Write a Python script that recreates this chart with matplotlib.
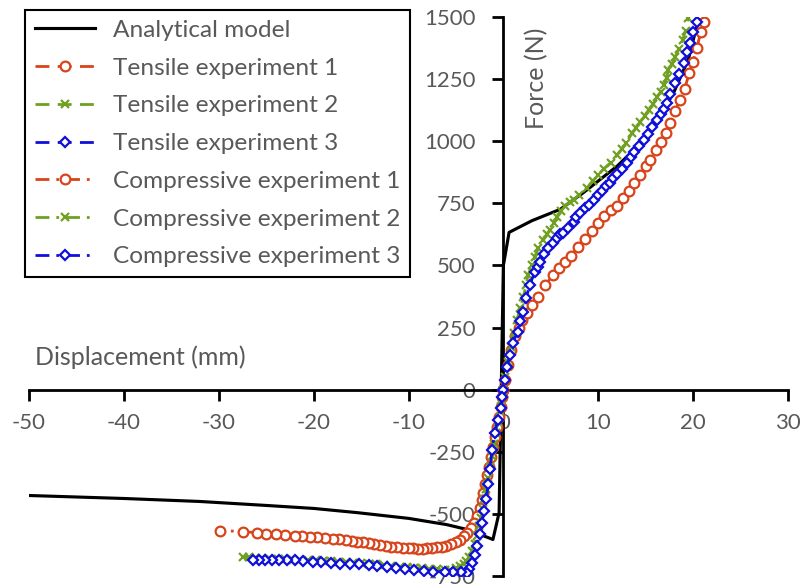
import matplotlib
matplotlib.use("Agg")
import matplotlib.pyplot as plt

plt.rcParams["font.family"] = ["Lato", "DejaVu Sans"]
plt.rcParams["axes.unicode_minus"] = False

# analytical model
model_x = [-50, -40, -32, -25, -20, -15.4, -10, -6, -3.8, -1.1, -0.45, 0.0, 0.6, 3, 6, 8.4, 10, 12, 13, 14.5, 16.5, 18, 19.5, 20.2, 20.6]
model_y = [-426, -438, -450, -466, -478, -495, -518, -543, -563, -603, -495, 500, 633, 680, 726, 792, 840, 900, 937, 995, 1098, 1200, 1330, 1436, 1490]

# tensile experiments
t1_x = [0.0, 0.2, 0.5, 0.8, 1.2, 1.6, 2.0, 2.5, 3.0, 3.6, 4.4, 5.2, 5.9, 6.5, 7.1, 7.9, 8.6, 9.3, 10.0, 10.6,
        11.3, 12.0, 12.6, 13.2, 13.8, 14.4, 15.0, 15.5, 16.1, 16.6, 17.1, 17.6, 18.1, 18.6, 19.1, 19.6, 20.0, 20.4, 20.8, 21.1]
t1_y = [0, 40, 100, 160, 215, 250, 280, 310, 340, 375, 420, 460, 490, 515, 540, 575, 605, 640, 670, 700,
        725, 740, 770, 800, 830, 865, 900, 925, 965, 995, 1033, 1075, 1120, 1165, 1210, 1275, 1320, 1375, 1440, 1480]

t2_x = [0.0, 0.2, 0.5, 0.8, 1.1, 1.4, 1.8, 2.1, 2.4, 2.6, 3.0, 3.3, 3.7, 4.2, 4.6, 4.9, 5.3, 5.7, 6.1, 6.5,
        7.0, 7.4, 8.0, 8.8, 9.4, 10.0, 10.6, 11.3, 12.0, 12.5, 12.9, 13.6, 14.0, 14.4, 14.9, 15.3, 15.8, 16.2, 16.6, 16.9,
        17.2, 17.4, 17.8, 18.1, 18.5, 18.9, 19.2, 19.5]
t2_y = [0, 50, 110, 170, 230, 280, 330, 374, 420, 462, 500, 535, 570, 603, 625, 643, 670, 696, 720, 740,
        755, 764, 785, 812, 840, 865, 890, 913, 945, 970, 993, 1033, 1055, 1078, 1100, 1126, 1150, 1178, 1200, 1227,
        1255, 1287, 1310, 1339, 1370, 1408, 1445, 1496]

t3_x = [0.0, 0.2, 0.4, 0.7, 1.0, 1.5, 1.8, 2.1, 2.4, 2.8, 3.3, 3.6, 3.9, 4.3, 4.7, 5.2, 5.7, 6.0, 6.3, 6.8,
        7.4, 7.7, 8.1, 8.6, 9.0, 9.5, 10.0, 10.4, 10.8, 11.2, 11.6, 12.0, 12.5, 13.0, 13.4, 13.8, 14.3, 14.8, 15.2, 15.7,
        16.2, 16.6, 16.9, 17.2, 17.6, 18.1, 18.5, 19.0, 19.4, 19.7, 20.0, 20.4]
t3_y = [0, 40, 93, 141, 189, 233, 275, 314, 370, 422, 474, 495, 515, 545, 571, 590, 611, 625, 631, 650,
        676, 696, 710, 730, 745, 764, 785, 800, 818, 832, 850, 868, 890, 913, 935, 955, 980, 1005, 1030, 1058,
        1086, 1110, 1130, 1154, 1190, 1235, 1270, 1315, 1360, 1395, 1440, 1480]

# compressive experiments
c1_x = [0.0, -0.1, -0.3, -0.5, -0.7, -0.9, -1.1, -1.3, -1.5, -1.7, -1.9, -2.1, -2.3, -2.5, -2.8, -3.1, -3.4, -3.8, -4.2, -4.6,
        -5.0, -5.5, -6.0, -6.5, -7.0, -7.5, -8.0, -8.5, -9.0, -9.5, -10.0, -10.6, -11.2, -11.8, -12.4, -13.0, -13.6, -14.2, -14.8, -15.4,
        -16.0, -16.6, -17.3, -18.0, -18.8, -19.6, -20.4, -21.2, -22.0, -23.0, -24.0, -25.0, -26.0, -27.4, -29.9]
c1_y = [0, -30, -70, -110, -150, -190, -230, -270, -310, -345, -380, -415, -445, -475, -510, -535, -555, -575, -590, -605,
        -615, -622, -628, -632, -635, -637, -639, -640, -640, -639, -638, -637, -635, -633, -630, -627, -623, -619, -615, -612,
        -609, -606, -603, -600, -597, -594, -592, -590, -588, -585, -582, -579, -576, -571, -567]

c2_x = [0.0, -0.2, -0.4, -0.6, -0.8, -1.0, -1.2, -1.4, -1.6, -1.8, -2.0, -2.2, -2.4, -2.6, -2.8, -3.0, -3.3, -3.6, -3.9, -4.2,
        -4.6, -5.0, -5.6, -6.2, -7.0, -7.8, -8.6, -9.4, -10.2, -10.9, -11.8, -12.6, -13.4, -14.2, -15.0, -15.8, -16.6, -17.4, -18.2, -19.0,
        -19.8, -20.6, -21.4, -22.2, -23.0, -23.8, -24.6, -25.4, -26.2, -26.8, -27.4]
c2_y = [0, -40, -85, -130, -175, -220, -265, -310, -355, -400, -440, -480, -515, -550, -590, -620, -650, -675, -690, -700,
        -710, -718, -724, -724, -722, -720, -718, -716, -714, -712, -709, -706, -703, -700, -698, -696, -694, -692, -690, -688,
        -687, -686, -685, -684, -683, -682, -680, -678, -676, -674, -672]

c3_x = [0.0, -0.1, -0.3, -0.6, -0.9, -1.2, -1.4, -1.6, -1.8, -2.0, -2.3, -2.5, -2.8, -3.0, -3.3, -3.6, -3.8, -4.5, -5.3, -6.2,
        -7.4, -8.4, -9.4, -10.4, -11.3, -12.3, -13.3, -14.2, -15.2, -16.2, -17.2, -18.2, -19.2, -20.1, -21.1, -22.0, -22.8, -23.6, -24.4, -25.1,
        -25.8, -26.4]
c3_y = [0, -28, -72, -121, -173, -241, -320, -380, -442, -490, -535, -580, -631, -665, -696, -720, -736, -735, -734, -733,
        -732, -728, -724, -720, -716, -712, -709, -706, -703, -700, -700, -698, -695, -692, -688, -687, -686, -686, -685, -685,
        -684, -684]

orange = "#D8441A"
green = "#6FA022"
blue = "#0F0FDC"
grey = "#595959"
dash = (0, (5, 3))
dashdot = (0, (5, 2.5, 1, 2.5))

fig = plt.figure(figsize=(8.02, 5.85), dpi=100)
ax = fig.add_axes([29 / 802, 1 - 576 / 585, (788 - 29) / 802, (576 - 17) / 585])

ax.plot(model_x, model_y, color="black", lw=2.25, label="Analytical model", zorder=3)

mk = dict(mfc="white", mew=1.6, lw=2.0, zorder=3)
ax.plot(t1_x, t1_y, color=orange, ls=dash, marker="o", ms=7, label="Tensile experiment 1", **mk)
ax.plot(t2_x, t2_y, color=green, ls=dash, marker="x", ms=6, label="Tensile experiment 2", **mk)
ax.plot(t3_x, t3_y, color=blue, ls=dash, marker="D", ms=5, label="Tensile experiment 3", **mk)
ax.plot(c1_x, c1_y, color=orange, ls=dashdot, marker="o", ms=7, label="Compressive experiment 1", **mk)
ax.plot(c2_x, c2_y, color=green, ls=dashdot, marker="x", ms=6, label="Compressive experiment 2", **mk)
ax.plot(c3_x, c3_y, color=blue, ls=dashdot, marker="D", ms=5, label="Compressive experiment 3", **mk)

ax.set_xlim(-50, 30)
ax.set_ylim(-750, 1500)
ax.set_xticks(range(-50, 31, 10))
ax.set_yticks(range(-750, 1501, 250))

ax.spines["left"].set_position(("data", 0))
ax.spines["bottom"].set_position(("data", 0))
ax.spines["right"].set_visible(False)
ax.spines["top"].set_visible(False)
for s in ("left", "bottom"):
    ax.spines[s].set_linewidth(2)
ax.tick_params(axis="both", direction="out", length=8, width=2, color="black",
               labelcolor=grey, labelsize=16)
ax.tick_params(axis="y", pad=12)
ax.tick_params(axis="x", pad=9)

ax.text(35 / 802, 1 - 357 / 585, "Displacement (mm)", transform=fig.transFigure,
        fontsize=18, color=grey, ha="left", va="center")
ax.text(537 / 802, 1 - 78 / 585, "Force (N)", transform=fig.transFigure,
        fontsize=18, color=grey, ha="center", va="center", rotation=90)

leg = ax.legend(loc="upper left", bbox_to_anchor=(25 / 802, 1 - 10 / 585),
                bbox_transform=fig.transFigure, borderaxespad=0, fontsize=17.6,
                labelcolor=grey, handlelength=2.45, handletextpad=0.75,
                labelspacing=0.68, borderpad=0.4, fancybox=False,
                framealpha=1, edgecolor="black")
leg.get_frame().set_linewidth(1.5)
leg.set_zorder(5)

fig.savefig("out.png", dpi=100)
